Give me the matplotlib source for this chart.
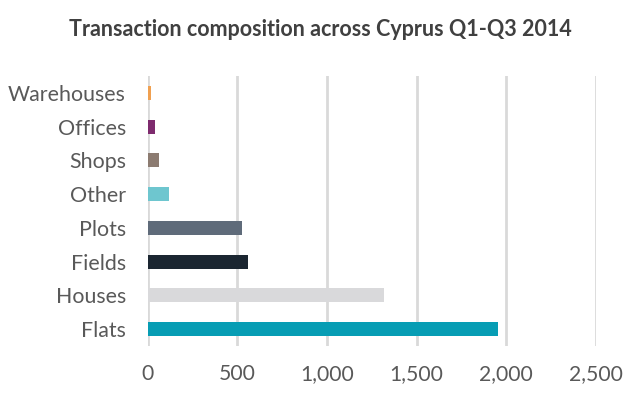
import matplotlib
matplotlib.use("Agg")
import matplotlib.pyplot as plt
from matplotlib.ticker import FuncFormatter

categories = ["Warehouses", "Offices", "Shops", "Other", "Plots", "Fields", "Houses", "Flats"]
values = [18, 40, 62, 120, 528, 560, 1321, 1951]
colors = ["#F0A050", "#7E2B6E", "#8C7B71", "#6EC6CF", "#5F6B7A", "#1B2631", "#D9D9DB", "#079DB4"]
xticks = [0, 500, 1000, 1500, 2000, 2500]
title = "Transaction composition across Cyprus Q1-Q3 2014"

plt.rcParams['font.family'] = ['Lato', 'DejaVu Sans']

fig = plt.figure(figsize=(6.4, 4.01), dpi=100)
ax = fig.add_axes([147.5/640, 55/401, (596-147.5)/640, 270/401])

ypos = list(range(len(categories)))
ax.barh(ypos, values, height=0.42, color=colors, zorder=3)
ax.set_ylim(len(categories) - 0.5, -0.5)
ax.set_xlim(0, 2500)
ax.set_yticks(ypos)
ax.set_yticklabels(categories, fontsize=15.4, color="#595959")
ax.set_xticks(xticks)
ax.xaxis.set_major_formatter(FuncFormatter(lambda v, p: f"{int(v):,}"))
ax.tick_params(axis='x', labelsize=15.2, labelcolor="#595959", length=0, pad=13)
ax.tick_params(axis='y', length=0, pad=15.5)
ax.grid(axis='x', color="#D9D9D9", linewidth=2, zorder=0)
for s in ax.spines.values():
    s.set_visible(False)

fig.text(320/640, 1 - 30/401, title, ha='center', va='center', fontsize=15.5,
         fontweight='bold', color="#404040")

fig.savefig("out.png", dpi=100)
